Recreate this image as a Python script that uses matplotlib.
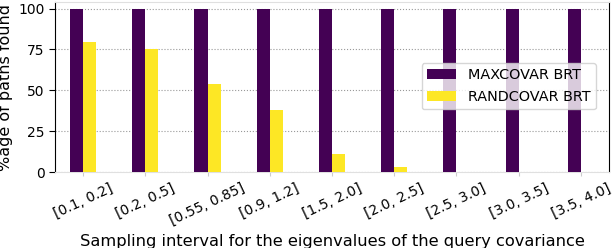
import matplotlib.pyplot as plt
import numpy as np

# 数据
intervals = ['[0.1, 0.2]', '[0.2, 0.5]', '[0.55, 0.85]', '[0.9, 1.2]', '[1.5, 2.0]',
             '[2.0, 2.5]', '[2.5, 3.0]', '[3.0, 3.5]', '[3.5, 4.0]']
maxcovar = [100, 100, 99.5, 100, 100, 100, 100, 100, 100]
randcovar = [79.5, 75, 54, 38, 11, 3, 0, 0, 0]

x = np.arange(len(intervals))
w = 0.21

fig, ax = plt.subplots(figsize=(6.12, 2.48), dpi=100)
fig.subplots_adjust(left=0.09, right=0.995, top=0.992, bottom=0.306)

ax.bar(x - w / 2, maxcovar, width=w, color='#440154', label='MAXCOVAR BRT', zorder=3)
ax.bar(x + w / 2, randcovar, width=w, color='#fde725', label='RANDCOVAR BRT', zorder=3)

ax.set_xlim(-0.45, len(intervals) - 0.55)
ax.set_ylim(0, 104)
ax.set_yticks([0, 25, 50, 75, 100])
ax.set_xticks(x)
ax.set_xticklabels(intervals, rotation=25, ha='center')
ax.tick_params(axis='y', labelsize=10, length=4, color='black')
ax.tick_params(axis='x', labelsize=10, length=3, color='#cccccc')

ax.set_ylabel('%age of paths found', fontsize=11.5)
ax.set_xlabel('Sampling interval for the eigenvalues of the query covariance', fontsize=11.7)

ax.grid(axis='y', linestyle=':', color='#999999', linewidth=0.8, zorder=0)
ax.spines['top'].set_color('#e0e0e0')
ax.spines['bottom'].set_color('#e0e0e0')
ax.spines['left'].set_color('black')
ax.spines['right'].set_color('black')

ax.legend(loc='center right', bbox_to_anchor=(0.99, 0.506), fontsize=10.4,
          edgecolor='#cccccc', framealpha=0.8, fancybox=True)

plt.savefig('out.png', dpi=100)
